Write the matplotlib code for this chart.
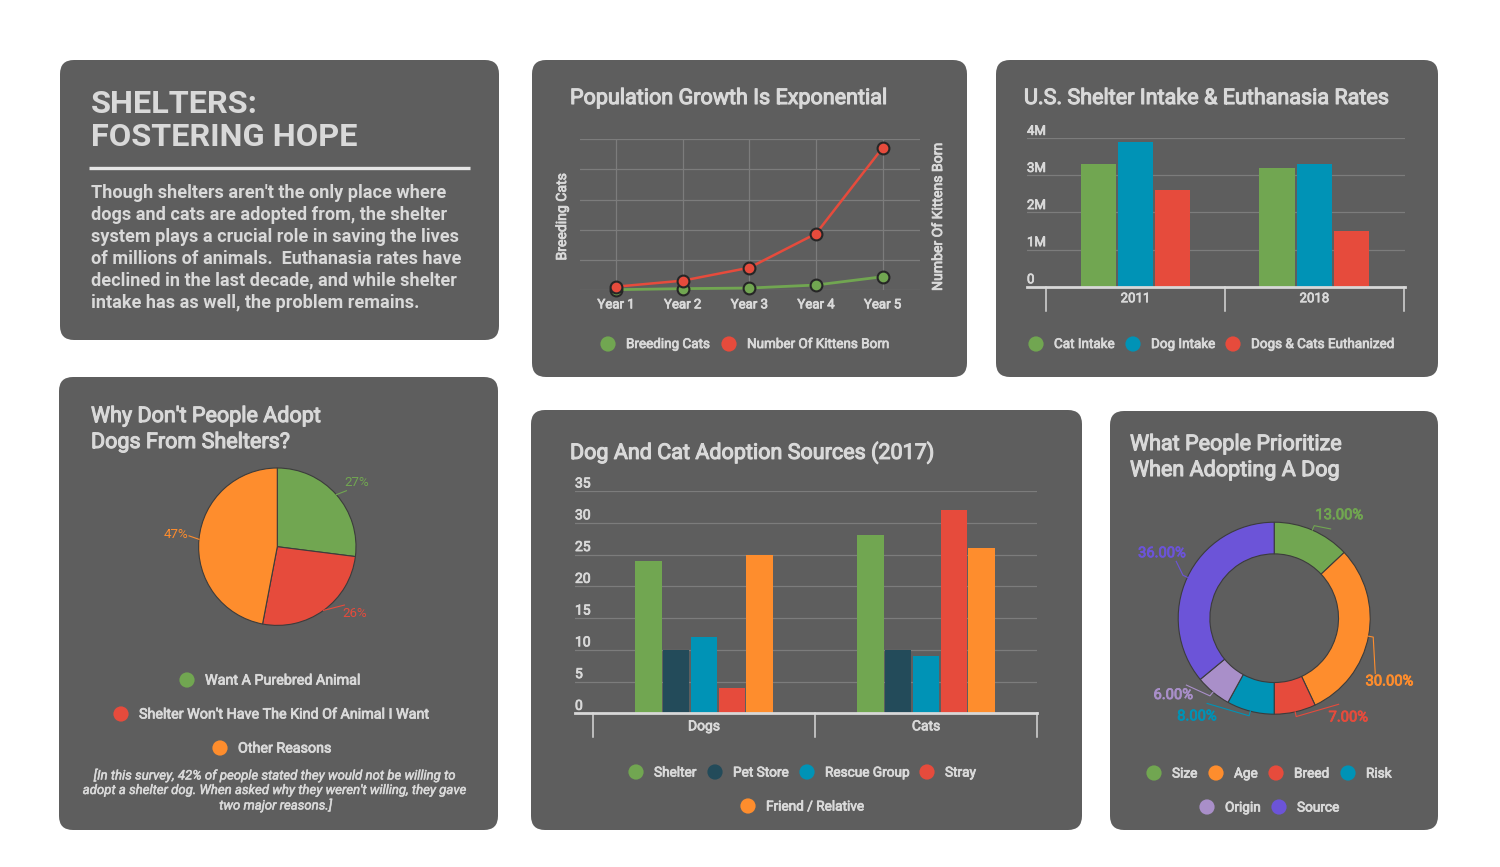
import matplotlib
matplotlib.use('Agg')
import matplotlib.pyplot as plt
from matplotlib.patches import FancyBboxPatch
import matplotlib.patheffects as pe
import numpy as np

plt.rcParams['font.family'] = ['Roboto', 'DejaVu Sans']

# ---------------- data ----------------
years = ['Year 1', 'Year 2', 'Year 3', 'Year 4', 'Year 5']
breeding_cats = [0.2, 0.9, 1.3, 3.3, 8.8]
kittens_born = [110, 310, 740, 1870, 4720]

intake_years = ['2011', '2018']
cat_intake = [3.3, 3.2]
dog_intake = [3.9, 3.3]
euthanized = [2.6, 1.5]
intake_ticks = [0, 1, 2, 3, 4]
intake_tick_labels = ['0', '1M', '2M', '3M', '4M']
intake_series = ['Cat Intake', 'Dog Intake', 'Dogs & Cats Euthanized']

reasons = ['Want A Purebred Animal', "Shelter Won't Have The Kind Of Animal I Want", 'Other Reasons']
reason_pct = [27, 26, 47]

source_groups = ['Dogs', 'Cats']
source_names = ['Shelter', 'Pet Store', 'Rescue Group', 'Stray', 'Friend / Relative']
dog_sources = [24, 10, 12, 4, 25]
cat_sources = [28, 10, 9, 32, 26]
source_ticks = [0, 5, 10, 15, 20, 25, 30, 35]

priority_names = ['Size', 'Age', 'Breed', 'Risk', 'Origin', 'Source']
priority_pct = [13, 30, 7, 8, 6, 36]

# ---------------- style ----------------
PANEL = '#5e5e5e'
TXT = '#d9d9d9'
GRID = '#7c7c7c'
BASE = '#d8d8d8'
GREEN = '#71a651'
RED = '#e64b3c'
BLUE = '#0093b6'
ORANGE = '#fe8d2d'
TEAL = '#234b5a'
LAV = '#a98fc9'
PURPLE = '#6c54d8'


def med(color=TXT, lw=0.55):
    return [pe.withStroke(linewidth=lw, foreground=color)]


W, H = 1500, 867
fig = plt.figure(figsize=(15, 8.67), dpi=100)
fig.patch.set_facecolor('white')

bg = fig.add_axes([0, 0, 1, 1], zorder=0)
bg.set_xlim(0, W)
bg.set_ylim(H, 0)
bg.axis('off')


def ax_px(x0, y0, x1, y1):
    a = fig.add_axes([x0 / W, 1 - y1 / H, (x1 - x0) / W, (y1 - y0) / H], zorder=2)
    a.set_facecolor('none')
    for s in a.spines.values():
        s.set_visible(False)
    return a


def panel(x0, y0, x1, y1):
    bg.add_patch(FancyBboxPatch((x0, y0), x1 - x0, y1 - y0,
                                boxstyle='round,pad=0,rounding_size=14',
                                fc=PANEL, ec='none'))


def title(x, y, s):
    bg.text(x, y, s, color=TXT, fontsize=15.5, va='center', path_effects=med(TXT, 0.8))


def legend_item(xc, y, color, label, size=10):
    bg.scatter([xc], [y], s=120, color=color, edgecolors='none', zorder=3)
    bg.text(xc + 18, y + 0.5, label, color=TXT, fontsize=size,
            va='center', ha='left', path_effects=med())


panel(60, 60, 499, 340)
panel(532, 60, 967, 377)
panel(996, 60, 1438, 377)
panel(59, 377, 498, 830)
panel(531, 410, 1082, 830)
panel(1110, 411, 1438, 830)

# ---------------- panel 1: text ----------------
bg.text(91, 104, 'SHELTERS:', color=TXT, fontsize=23.4, fontweight='bold', va='center')
bg.text(91, 137, 'FOSTERING HOPE', color=TXT, fontsize=23.4, fontweight='bold', va='center')
bg.plot([89, 470], [167.5, 167.5], color='#e6e6e6', lw=2.4, solid_capstyle='butt')
body = ["Though shelters aren't the only place where",
        "dogs and cats are adopted from, the shelter",
        "system plays a crucial role in saving the lives",
        "of millions of animals.  Euthanasia rates have",
        "declined in the last decade, and while shelter",
        "intake has as well, the problem remains."]
for i, line in enumerate(body):
    bg.text(91, 192.5 + 22 * i, line, color=TXT, fontsize=13.1, fontweight='bold', va='center')

# ---------------- panel 2: line chart ----------------
title(570, 98.5, 'Population Growth Is Exponential')
ax = ax_px(580, 139.3, 920, 290)
xs = np.arange(len(years))
ax.plot(xs, breeding_cats, color=GREEN, lw=2, marker='o', ms=8.5, mfc=GREEN,
        mec='#262626', mew=1.5, clip_on=False, zorder=3)
ax.set_xlim(-0.54, 4.56)
ax.set_ylim(0, 100)
ax.set_yticks(np.linspace(0, 100, 6))
ax.set_yticklabels([])
ax.set_xticks(xs)
ax.set_xticklabels(years, color=TXT, fontsize=9.5)
for t in ax.get_xticklabels():
    t.set_path_effects(med())
ax.tick_params(length=0)
ax.tick_params(axis='x', pad=6)
ax.grid(True, color=GRID, lw=0.9)
ax.set_axisbelow(True)
ax2 = ax.twinx()
for s in ax2.spines.values():
    s.set_visible(False)
ax2.plot(xs, kittens_born, color=RED, lw=1.8, marker='o', ms=8.5, mfc=RED,
         mec='#262626', mew=1.5, clip_on=False, zorder=4)
ax2.set_ylim(0, 5000)
ax2.set_yticks([])
ax2.tick_params(length=0)
bg.text(562, 217, 'Breeding Cats', rotation=90, color=TXT, fontsize=10.1,
        va='center', ha='center', path_effects=med())
bg.text(938, 217, 'Number Of Kittens Born', rotation=90, color=TXT, fontsize=10.1,
        va='center', ha='center', path_effects=med())
legend_item(608, 344, GREEN, 'Breeding Cats', 9.7)
legend_item(729, 344, RED, 'Number Of Kittens Born', 9.7)


def category_axis(a, groups, sep_len_px, label_off_px, fs):
    bbox_h = a.get_position().height * H
    tr = a.get_xaxis_transform()
    a.axhline(0, color=BASE, lw=2, zorder=3, clip_on=False)
    for e in np.arange(len(groups) + 1) - 0.5:
        a.plot([e, e], [0, -sep_len_px / bbox_h], color=BASE, lw=1.1,
               transform=tr, clip_on=False)
    for i, g in enumerate(groups):
        a.annotate(g, xy=(i, 0), xycoords=tr, xytext=(0, -label_off_px * 0.72),
                   textcoords='offset points', ha='center', va='center',
                   color=TXT, fontsize=fs, path_effects=med())


def value_axis(a, ticks, labels, fs):
    tr = a.get_yaxis_transform()
    for t, l in zip(ticks, labels):
        if t != 0:
            a.axhline(t, color=GRID, lw=0.9, zorder=0)
        a.annotate(l, xy=(0, t), xycoords=tr, xytext=(0, 2.5),
                   textcoords='offset points', ha='left', va='baseline',
                   color=TXT, fontsize=fs, path_effects=med())


# ---------------- panel 3: intake bars ----------------
title(1024, 98.5, 'U.S. Shelter Intake & Euthanasia Rates')
ax = ax_px(1027, 138.3, 1405, 286.7)
ax.set_xlim(-0.606, 1.506)
ax.set_ylim(0, 4)
ax.set_xticks([])
ax.set_yticks([])
gx = np.arange(len(intake_years))
for k, (vals, col) in enumerate(zip([cat_intake, dog_intake, euthanized], [GREEN, BLUE, RED])):
    ax.bar(gx + (k - 1) * 0.208, vals, width=0.198, color=col, zorder=2)
value_axis(ax, intake_ticks, intake_tick_labels, 9.5)
category_axis(ax, intake_years, 24, 12, 9.5)
legend_item(1036, 344, GREEN, intake_series[0], 9.7)
legend_item(1133, 344, BLUE, intake_series[1], 9.7)
legend_item(1233, 344, RED, intake_series[2], 9.7)

# ---------------- panel 4: pie ----------------
title(91, 416.5, "Why Don't People Adopt")
title(91, 442.5, 'Dogs From Shelters?')
cx, cy, R = 277.3, 546.7, 78.7
ax = ax_px(cx - 1.6 * R, cy - 1.6 * R, cx + 1.6 * R, cy + 1.6 * R)
pie_cols = [GREEN, RED, ORANGE]
wedges, _ = ax.pie(reason_pct, colors=pie_cols, startangle=90, counterclock=False,
                   radius=1, wedgeprops=dict(edgecolor='#3c3c3c', linewidth=0.8))
ax.set_xlim(-1.6, 1.6)
ax.set_ylim(-1.6, 1.6)
pie_label_angles = [39, -41, 173]
for w, p, col, la in zip(wedges, reason_pct, pie_cols, pie_label_angles):
    mid = np.deg2rad((w.theta1 + w.theta2) / 2)
    lr = np.deg2rad(la)
    ax.plot([np.cos(mid), 1.13 * np.cos(lr)], [np.sin(mid), 1.13 * np.sin(lr)],
            color=col, lw=0.8, clip_on=False)
    ax.text(1.3 * np.cos(lr), 1.3 * np.sin(lr), f'{p}%', color=col, fontsize=9.6,
            ha='center', va='center')
legend_item(187, 680, GREEN, reasons[0], 10.3)
legend_item(121, 714, RED, reasons[1], 10.3)
legend_item(220, 748, ORANGE, reasons[2], 10.3)
foot = ["[In this survey, 42% of people stated they would not be willing to",
        "adopt a shelter dog. When asked why they weren't willing, they gave",
        "two major reasons.]"]
for i, line in enumerate(foot):
    bg.text(276, 775.5 + 15 * i, line, color=TXT, fontsize=9.5, style='italic',
            ha='center', va='center', path_effects=med(TXT, 0.35))

# ---------------- panel 5: sources bars ----------------
title(570, 452.5, 'Dog And Cat Adoption Sources (2017)')
ax = ax_px(575, 491, 1037, 713.3)
ax.set_xlim(-0.581, 1.5)
ax.set_ylim(0, 35)
ax.set_xticks([])
ax.set_yticks([])
gx = np.arange(len(source_groups))
src_cols = [GREEN, TEAL, BLUE, RED, ORANGE]
for k, col in enumerate(src_cols):
    ax.bar(gx + (k - 2) * 0.125, [dog_sources[k], cat_sources[k]], width=0.118,
           color=col, zorder=2)
value_axis(ax, source_ticks, [str(t) for t in source_ticks], 10)
category_axis(ax, source_groups, 24, 13, 10)
legend_item(636, 772, GREEN, source_names[0], 9.8)
legend_item(715, 772, TEAL, source_names[1], 9.8)
legend_item(807, 772, BLUE, source_names[2], 9.8)
legend_item(927, 772, RED, source_names[3], 9.8)
legend_item(748, 806, ORANGE, source_names[4], 9.8)

# ---------------- panel 6: donut ----------------
title(1130, 444.5, 'What People Prioritize')
title(1130, 470.5, 'When Adopting A Dog')
cx, cy, R = 1274.2, 618.2, 96
ax = ax_px(cx - 1.6 * R, cy - 1.6 * R, cx + 1.6 * R, cy + 1.6 * R)
don_cols = [GREEN, ORANGE, RED, BLUE, LAV, PURPLE]
wedges, _ = ax.pie(priority_pct, colors=don_cols, startangle=90, counterclock=False,
                   radius=1, wedgeprops=dict(width=0.33, edgecolor='#3c3c3c', linewidth=0.8))
ax.set_xlim(-1.6, 1.6)
ax.set_ylim(-1.6, 1.6)
donut_label_angles = [57.7, -28.7, -53.2, -128.2, -142.7, 149.9]
donut_label_radii = [1.27, 1.37, 1.29, 1.30, 1.32, 1.35]
for w, p, col, la, lrad in zip(wedges, priority_pct, don_cols, donut_label_angles, donut_label_radii):
    mid = np.deg2rad((w.theta1 + w.theta2) / 2)
    lr = np.deg2rad(la)
    ax.plot([np.cos(mid), 1.05 * np.cos(mid), (lrad - 0.17) * np.cos(lr)],
            [np.sin(mid), 1.05 * np.sin(mid), (lrad - 0.17) * np.sin(lr)],
            color=col, lw=0.8, clip_on=False)
    ax.text(lrad * np.cos(lr), lrad * np.sin(lr), f'{p:.2f}%', color=col, fontsize=10.6,
            ha='center', va='center', path_effects=med(col, 0.6))
legend_item(1154, 773, GREEN, priority_names[0], 9.8)
legend_item(1216, 773, ORANGE, priority_names[1], 9.8)
legend_item(1276, 773, RED, priority_names[2], 9.8)
legend_item(1348, 773, BLUE, priority_names[3], 9.8)
legend_item(1207, 807, LAV, priority_names[4], 9.8)
legend_item(1279, 807, PURPLE, priority_names[5], 9.8)

fig.savefig('out.png', dpi=100, facecolor='white')
